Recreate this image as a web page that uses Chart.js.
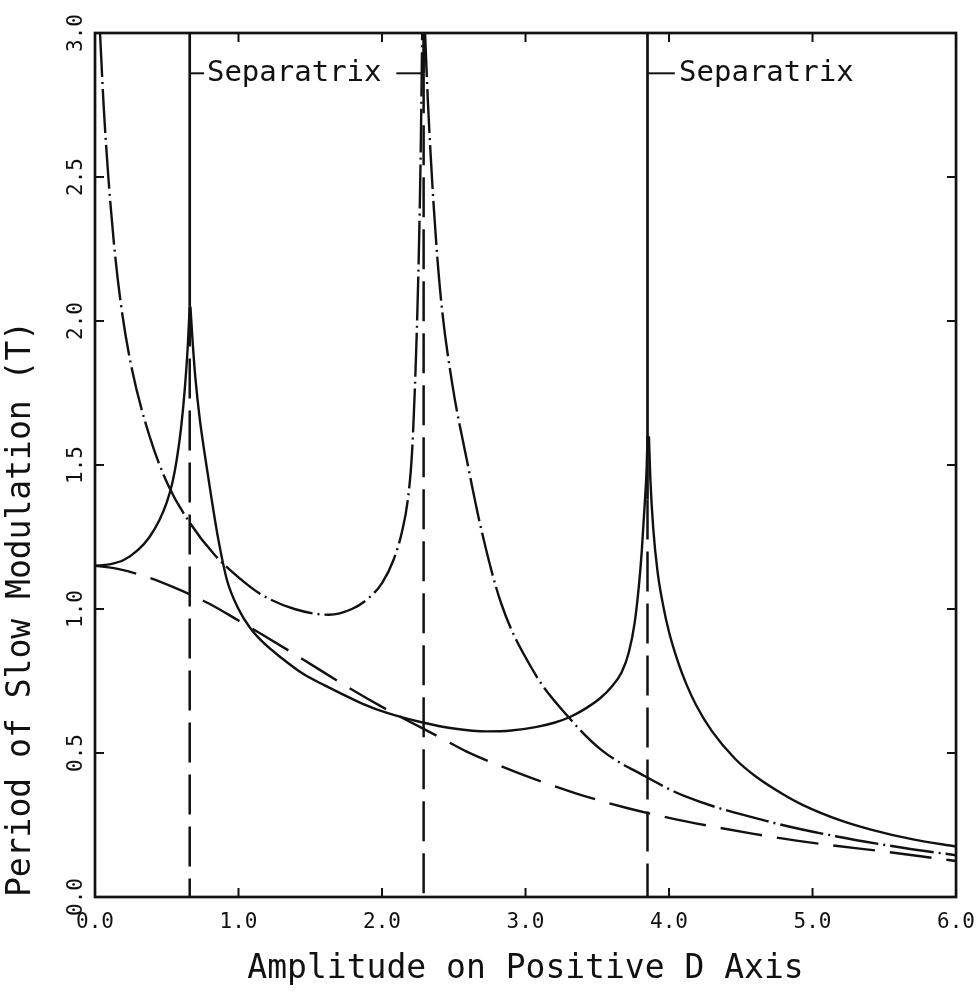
<!DOCTYPE html>
<html>
<head>
<meta charset="utf-8">
<title>Period of Slow Modulation</title>
<script src="https://cdn.jsdelivr.net/npm/chart.js@4.4.1/dist/chart.umd.min.js"></script>
<style>
    html, body { margin: 0; padding: 0; background: #fff; }
    #plot { display: block; }
</style>
</head>
<body>
<canvas id="plot" width="980" height="992"></canvas>
<script>

// DATA BEGIN

// solid curve, broken into three branches at the separatrices
let solidLeftX = [0.00, 0.10, 0.20, 0.30, 0.38, 0.45, 0.50, 0.54, 0.57, 0.60, 0.625, 0.645, 0.66];
let solidLeftY = [1.15, 1.155, 1.17, 1.205, 1.25, 1.31, 1.37, 1.44, 1.52, 1.63, 1.76, 1.90, 2.05];

let solidMidX = [0.665, 0.68, 0.70, 0.73, 0.77, 0.81, 0.86, 0.92, 1.00, 1.08, 1.17, 1.30, 1.45, 1.60, 1.87, 2.03, 2.29, 2.50, 2.73, 2.90, 3.07, 3.20, 3.31, 3.42, 3.52, 3.60, 3.67, 3.72, 3.76, 3.79, 3.81, 3.83, 3.845, 3.85];
let solidMidY = [2.05, 1.93, 1.80, 1.66, 1.52, 1.39, 1.24, 1.10, 1.00, 0.935, 0.885, 0.83, 0.775, 0.735, 0.67, 0.64, 0.605, 0.585, 0.575, 0.578, 0.59, 0.605, 0.625, 0.655, 0.69, 0.73, 0.78, 0.85, 0.95, 1.08, 1.20, 1.36, 1.50, 1.60];

let solidRightX = [3.86, 3.87, 3.89, 3.92, 3.96, 4.00, 4.06, 4.12, 4.19, 4.30, 4.46, 4.60, 4.80, 4.93, 5.20, 5.40, 5.70, 6.00];
let solidRightY = [1.60, 1.45, 1.28, 1.13, 1.01, 0.92, 0.82, 0.74, 0.665, 0.575, 0.48, 0.42, 0.355, 0.32, 0.265, 0.235, 0.20, 0.175];

// long dashed curve
let dashedX = [0.00, 0.15, 0.34, 0.55, 0.79, 1.00, 1.17, 1.45, 1.74, 2.00, 2.15, 2.40, 2.59, 2.80, 3.03, 3.35, 3.70, 4.00, 4.30, 4.58, 4.90, 5.16, 5.50, 5.85, 6.00];
let dashedY = [1.15, 1.14, 1.115, 1.075, 1.02, 0.96, 0.91, 0.825, 0.735, 0.66, 0.62, 0.555, 0.505, 0.46, 0.415, 0.36, 0.31, 0.275, 0.245, 0.22, 0.195, 0.178, 0.158, 0.135, 0.125];

// dash-dot curve, two branches
let dashdotLeftX = [0.035, 0.06, 0.09, 0.13, 0.18, 0.25, 0.38, 0.51, 0.66, 0.83, 1.00, 1.16, 1.39, 1.63, 1.79, 1.90, 2.00, 2.08, 2.14, 2.18, 2.21, 2.235, 2.255, 2.27, 2.28];
let dashdotLeftY = [3.00, 2.75, 2.52, 2.28, 2.06, 1.85, 1.60, 1.43, 1.30, 1.19, 1.11, 1.05, 1.00, 0.98, 1.00, 1.035, 1.09, 1.17, 1.27, 1.38, 1.55, 1.85, 2.20, 2.60, 3.00];

let dashdotRightX = [2.30, 2.32, 2.36, 2.41, 2.49, 2.59, 2.69, 2.83, 3.06, 3.29, 3.53, 3.83, 4.11, 4.71, 5.17, 5.64, 6.00];
let dashdotRightY = [3.00, 2.76, 2.40, 2.08, 1.78, 1.52, 1.28, 1.02, 0.78, 0.63, 0.51, 0.42, 0.35, 0.26, 0.21, 0.17, 0.145];

// separatrices: solid from the top down to sepSolidTo, dashed below
let sepX = [0.66, 2.29, 3.85];
let sepSolidTo = [2.05, 2.86, 1.38];

// labels and their leader lines
let sepLabelText = 'Separatrix';
let sepLabelY = 2.86;
let sepLabelX = [0.78, 4.07];
let leaderFrom = [0.66, 2.10, 3.85];
let leaderTo = [0.76, 2.29, 4.04];

// ticks
let xTickValues = [0, 1, 2, 3, 4, 5, 6];
let yTickValues = [0, 0.5, 1, 1.5, 2, 2.5, 3];

// DATA END

let ink = '#111';
let mono = '"DejaVu Sans Mono", monospace';

function pts(xs, ys)
{
    return xs.map(function (x, i) { return {x: x, y: ys[i]}; });
}

function curve(xs, ys, dash)
{
    return {
        data: pts(xs, ys),
        showLine: true,
        borderColor: ink,
        borderWidth: 2.4,
        borderDash: dash,
        pointRadius: 0,
        cubicInterpolationMode: 'monotone',
        fill: false
    };
}

function segment(x1, y1, x2, y2, dash, width)
{
    return {
        data: [{x: x1, y: y1}, {x: x2, y: y2}],
        showLine: true,
        borderColor: ink,
        borderWidth: width,
        borderDash: dash,
        pointRadius: 0,
        tension: 0,
        fill: false
    };
}

let datasets = [
    curve(solidLeftX, solidLeftY, []),
    curve(solidMidX, solidMidY, []),
    curve(solidRightX, solidRightY, []),
    curve(dashedX, dashedY, [42, 15]),
    curve(dashdotLeftX, dashdotLeftY, [44, 5, 2, 5]),
    curve(dashdotRightX, dashdotRightY, [44, 5, 2, 5])
];

for (let i = 0; i < sepX.length; i++)
{
    datasets.push(segment(sepX[i], 3, sepX[i], sepSolidTo[i], [], 2.7));
    datasets.push(segment(sepX[i], sepSolidTo[i], sepX[i], 0, [40, 12], 2.5));
}

for (let i = 0; i < leaderFrom.length; i++)
{
    datasets.push(segment(leaderFrom[i], sepLabelY, leaderTo[i], sepLabelY, [], 2));
}

// FRAME, INWARD TICKS AND LABELS

let frame = {
    id: 'frame',
    afterDatasetsDraw: function (chart)
    {
        let ctx = chart.ctx;
        let a = chart.chartArea;
        let sx = chart.scales.x;
        let sy = chart.scales.y;
        let tl = 9;

        ctx.save();
        ctx.strokeStyle = ink;
        ctx.lineWidth = 2.7;
        ctx.strokeRect(a.left, a.top, a.right - a.left, a.bottom - a.top);

        ctx.lineWidth = 2;
        ctx.beginPath();
        sx.ticks.forEach(function (t)
        {
            let px = sx.getPixelForValue(t.value);
            ctx.moveTo(px, a.bottom);
            ctx.lineTo(px, a.bottom - tl);
            ctx.moveTo(px, a.top);
            ctx.lineTo(px, a.top + tl);
        });
        sy.ticks.forEach(function (t)
        {
            let py = sy.getPixelForValue(t.value);
            ctx.moveTo(a.left, py);
            ctx.lineTo(a.left + tl, py);
            ctx.moveTo(a.right, py);
            ctx.lineTo(a.right - tl, py);
        });
        ctx.stroke();

        ctx.fillStyle = ink;
        ctx.font = '29px ' + mono;
        ctx.textAlign = 'left';
        ctx.textBaseline = 'middle';
        sepLabelX.forEach(function (x)
        {
            ctx.fillText(sepLabelText, sx.getPixelForValue(x), sy.getPixelForValue(sepLabelY));
        });
        ctx.restore();
    }
};

// END FRAME

new Chart(document.getElementById('plot').getContext('2d'),
{
    type: 'scatter',
    data: { datasets: datasets },
    plugins: [frame],
    options:
    {
        responsive: false,
        animation: false,
        events: [],
        layout: { padding: { top: 33, right: 23, left: 0, bottom: 0 } },
        plugins:
        {
            legend: { display: false },
            tooltip: { enabled: false }
        },
        scales:
        {
            x:
            {
                type: 'linear',
                min: 0,
                max: 6,
                afterBuildTicks: function (s) { s.ticks = xTickValues.map(function (v) { return {value: v}; }); },
                afterFit: function (s) { s.height = 95; },
                grid: { display: false },
                border: { display: false },
                ticks:
                {
                    color: ink,
                    font: { family: mono, size: 21 },
                    padding: 5,
                    maxRotation: 0,
                    callback: function (v) { return Number(v).toFixed(1); }
                },
                title:
                {
                    display: true,
                    text: 'Amplitude on Positive D Axis',
                    color: ink,
                    font: { family: mono, size: 33 },
                    padding: { top: 0, bottom: 3 }
                }
            },
            y:
            {
                type: 'linear',
                min: 0,
                max: 3,
                afterBuildTicks: function (s) { s.ticks = yTickValues.map(function (v) { return {value: v}; }); },
                afterFit: function (s) { s.width = 95; },
                grid: { display: false },
                border: { display: false },
                ticks:
                {
                    color: ink,
                    font: { family: mono, size: 21 },
                    padding: -9,
                    minRotation: 90,
                    maxRotation: 90,
                    crossAlign: 'center',
                    callback: function (v) { return Number(v).toFixed(1); }
                },
                title:
                {
                    display: true,
                    text: 'Period of Slow Modulation (T)',
                    align: 'start',
                    color: ink,
                    font: { family: mono, size: 33 },
                    padding: { top: 2, bottom: 0 }
                }
            }
        }
    }
});

</script>
</body>
</html>
